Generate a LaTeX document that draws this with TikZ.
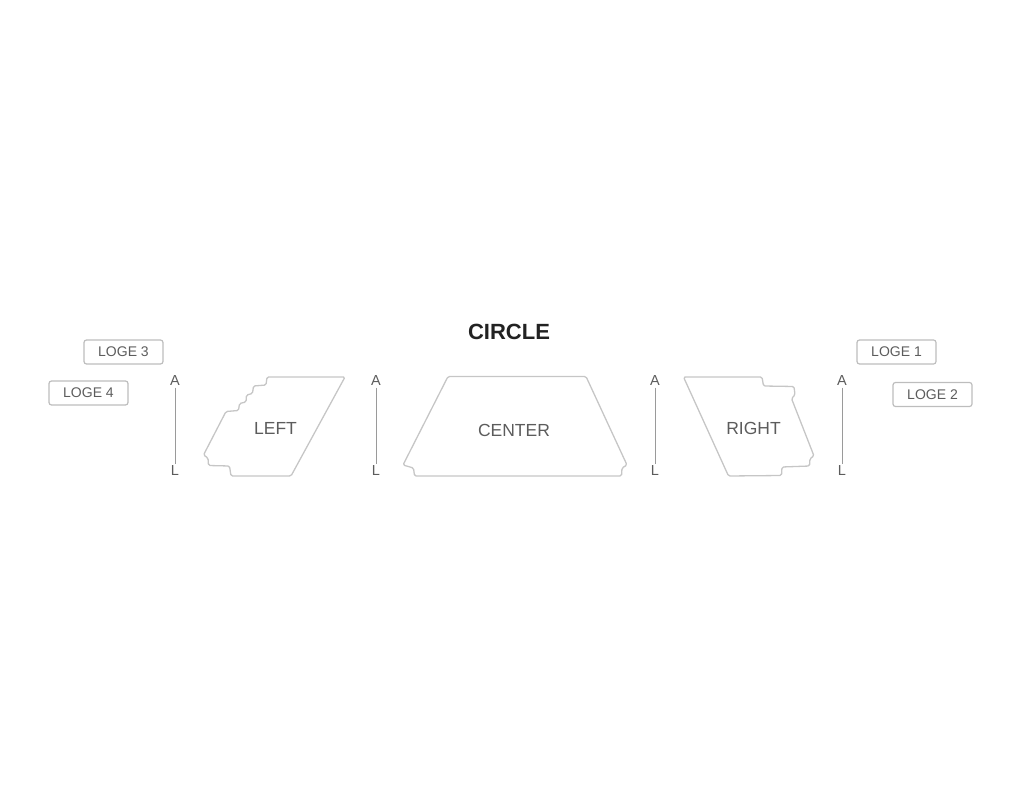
\documentclass[tikz,border=0pt]{standalone}
\usepackage{fontspec}
\setmainfont{Liberation Sans}
\usepackage{tikz}
\definecolor{seatline}{HTML}{C6C6C6}
\definecolor{boxline}{HTML}{BDBDBD}
\definecolor{labelgray}{HTML}{5C5C5C}
\definecolor{axisgray}{HTML}{9A9A9A}
\definecolor{titlegray}{HTML}{222222}
\tikzstyle{sect} = [draw=seatline, line width=1.3pt, rounded corners=1.5pt, line join=round]
\tikzstyle{secname} = [text=labelgray, inner sep=0pt, font=\fontsize{17.5}{20}\selectfont]
\tikzstyle{loge} = [draw=boxline, line width=1.2pt, rounded corners=2.5pt, minimum width=79pt, minimum height=24pt, inner sep=0pt, text=labelgray, font=\fontsize{14}{16}\selectfont]
\tikzstyle{row} = [text=labelgray, inner sep=1.5pt, font=\fontsize{14.5}{16}\selectfont]
\tikzstyle{axis} = [draw=axisgray, line width=0.9pt]

\begin{document}
\begin{tikzpicture}[x=1pt, y=-1pt]
\useasboundingbox (0,0) rectangle (1020,802);
\node[text=titlegray, font=\fontsize{22}{26}\selectfont\bfseries] (circle) at (509,332) {CIRCLE};

\node[loge] (loge3) at (123.5,352) {LOGE 3};
\node[loge] (loge4) at (88.5,393) {LOGE 4};
\node[loge] (loge1) at (896.5,352) {LOGE 1};
\node[loge] (loge2) at (932.5,394.5) {LOGE 2};

\draw[sect] (267,377) -- (345,377) -- (291,476) -- (231,476) -- (229.5,466) -- (208.5,465.5)
    -- (208,458) -- (203.5,455) -- (226,411.5) -- (238.5,410.5) -- (239.5,403.5)
    -- (246,402) -- (246.5,395) -- (252.5,393.5) -- (253.5,386) -- (266,385) -- cycle;
\draw[sect] (448,376.5) -- (586,376.5) -- (627,465) -- (622,468) -- (621.5,476)
    -- (414.5,476) -- (413.5,468) -- (403,465) -- cycle;
\draw[sect] (683.5,377) -- (762,377) -- (763.5,386) -- (794,386.5) -- (795,395)
    -- (791.5,398.5) -- (814,456) -- (810,458.5) -- (809.5,466) -- (782,467)
    -- (781.5,475.5) -- (728.5,476) -- cycle;

\node[secname] (left) at (275.5,428) {LEFT};
\node[secname] (center) at (514,430) {CENTER};
\node[secname] (right) at (753.5,428) {RIGHT};

\node[row] (a1) at (175,381) {A};
\node[row] (l1) at (175,471) {L};
\node[row] (a2) at (376,381) {A};
\node[row] (l2) at (376,471) {L};
\node[row] (a3) at (655,381) {A};
\node[row] (l3) at (655,471) {L};
\node[row] (a4) at (842,381) {A};
\node[row] (l4) at (842,471) {L};
\draw[axis] (a1) -- (l1);
\draw[axis] (a2) -- (l2);
\draw[axis] (a3) -- (l3);
\draw[axis] (a4) -- (l4);
\end{tikzpicture}
\end{document}
